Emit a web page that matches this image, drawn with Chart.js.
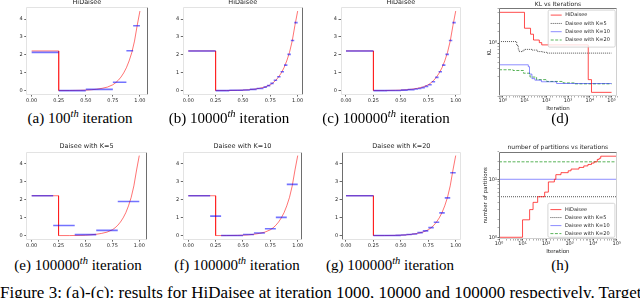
<!DOCTYPE html>
<html>
<head>
<meta charset="utf-8">
<script src="https://cdn.jsdelivr.net/npm/chart.js@4.4.1/dist/chart.umd.min.js"></script>
<style>
  html, body { margin:0; padding:0; background:#fff; }
  body { position:relative; width:640px; height:298px; overflow:hidden; }
  canvas { position:absolute; }
  .cap { position:absolute; width:240px; text-align:center; white-space:nowrap;
         font-family:'Liberation Serif','DejaVu Serif',serif; font-size:15px; line-height:16px; color:#000; }
  .cap sup { font-size:10.5px; line-height:0; font-style:italic; vertical-align:6px; }
  #figcap { position:absolute; left:0; top:284px; white-space:nowrap;
            font-family:'Liberation Serif','DejaVu Serif',serif; font-size:17px; line-height:18px; color:#000; }
</style>
</head>
<body>
<canvas id="pa"></canvas><canvas id="pb"></canvas><canvas id="pc"></canvas><canvas id="pd"></canvas>
<canvas id="pe"></canvas><canvas id="pf"></canvas><canvas id="pg"></canvas><canvas id="ph"></canvas>

<div class="cap" style="left:-40px;top:110px">(a) 100<sup>th</sup> iteration</div>
<div class="cap" style="left:109px;top:110px">(b) 10000<sup>th</sup> iteration</div>
<div class="cap" style="left:266px;top:110px">(c) 100000<sup>th</sup> iteration</div>
<div class="cap" style="left:440px;top:110px">(d)</div>
<div class="cap" style="left:-42px;top:257px">(e) 100000<sup>th</sup> iteration</div>
<div class="cap" style="left:117px;top:257px">(f) 100000<sup>th</sup> iteration</div>
<div class="cap" style="left:270px;top:257px">(g) 100000<sup>th</sup> iteration</div>
<div class="cap" style="left:440px;top:257px">(h)</div>
<div id="figcap">Figure 3: (a)-(c): results for HiDaisee at iteration 1000, 10000 and 100000 respectively. Target</div>

<script>
// ---------------- data ----------------
const unitTicks = [0, 0.25, 0.5, 0.75, 1];
const unitTickLabels = ['0.00', '0.25', '0.50', '0.75', '1.00'];
const densityTicks = [0, 1, 2, 3, 4];
const densityTickLabels = ['0', '1', '2', '3', '4'];
const logTickExps = [0, 1, 2, 3, 4, 5];
const logTickLabels = ['10\u2070', '10\u00B9', '10\u00B2', '10\u00B3', '10\u2074', '10\u2075'];

// target density (red)
const targetX = [0, 0.25, 0.25, 0.35, 0.45, 0.5, 0.55, 0.6, 0.65, 0.7, 0.75, 0.775, 0.8, 0.825, 0.85, 0.875, 0.9, 0.925, 0.95, 0.975, 1.0];
const targetY = [2.22, 2.22, 0.01, 0.01, 0.02, 0.03, 0.05, 0.08, 0.13, 0.2, 0.33, 0.44, 0.58, 0.76, 0.99, 1.28, 1.66, 2.13, 2.77, 3.65, 4.45];

// HiDaisee estimates (blue), partition edges + values
const edgesA = [0, 0.25, 0.5, 0.75, 0.875, 0.9375, 1];
const valsA  = [2.14, 0.0, 0.07, 0.47, 2.23, 3.63];

const edgesB = [0, 0.25, 0.375, 0.5, 0.5625, 0.625, 0.6875, 0.71875, 0.75, 0.78125, 0.8125, 0.84375, 0.875, 0.90625, 0.9375, 0.96875, 1];
const valsB  = [2.22, 0.0, 0.02, 0.04, 0.07, 0.12, 0.2, 0.28, 0.41, 0.58, 0.78, 1.06, 1.43, 2.03, 2.8, 3.8];

const edgesC = [0, 0.25, 0.375, 0.5, 0.5625, 0.625, 0.65625, 0.6875, 0.71875, 0.75, 0.78125, 0.8125, 0.84375, 0.875, 0.90625, 0.9375, 0.96875, 1];
const valsC  = [2.22, 0.0, 0.01, 0.03, 0.06, 0.09, 0.12, 0.17, 0.24, 0.33, 0.5, 0.74, 1.06, 1.43, 2.03, 2.8, 3.8];

// Daisee estimates with fixed K
const edgesE = [0, 0.2, 0.4, 0.6, 0.8, 1];
const valsE  = [2.22, 0.57, 0.06, 0.3, 1.9];

const edgesF = [0, 0.1, 0.2, 0.3, 0.4, 0.5, 0.6, 0.7, 0.8, 0.9, 1];
const valsF  = [2.22, 2.22, 1.09, 0.01, 0.01, 0.07, 0.15, 0.39, 1.02, 2.85];

const edgesG = [0, 0.05, 0.1, 0.15, 0.2, 0.25, 0.3, 0.35, 0.4, 0.45, 0.5, 0.55, 0.6, 0.65, 0.7, 0.75, 0.8, 0.85, 0.9, 0.95, 1];
const valsG  = [2.22, 2.22, 2.22, 2.22, 2.22, 0.01, 0.01, 0.01, 0.01, 0.02, 0.04, 0.07, 0.1, 0.17, 0.27, 0.45, 0.75, 1.27, 2.1, 3.5];

// (d) KL vs iterations
const seriesNames = ['HiDaisee', 'Daisee with K=5', 'Daisee with K=10', 'Daisee with K=20'];
const klHiIter  = [0.68, 10, 19, 26, 48, 62, 8500, 12000, 100000];
const klHi      = [3.03, 1.71, 1.38, 1.12, 1.02, 0.94, 0.27, 0.171, 0.171];
const klK5Iter  = [0.68, 4.4, 5.2, 5.8, 8.5, 10.5, 22, 40, 70, 105, 100000];
const klK5      = [1.06, 0.92, 0.78, 0.74, 0.78, 0.80, 0.78, 0.74, 0.72, 0.70, 0.70];
const klK10Iter = [0.68, 15, 17, 22, 30, 60, 300, 100000];
const klK10     = [0.46, 0.43, 0.33, 0.28, 0.265, 0.25, 0.235, 0.235];
const klK20Iter = [0.68, 3, 9, 18, 36, 105, 600, 2000, 100000];
const klK20     = [0.385, 0.375, 0.34, 0.296, 0.27, 0.253, 0.24, 0.232, 0.232];

// (h) number of partitions vs iterations
const partHiIter = [1, 10, 20, 28, 44, 87, 125, 225, 260, 430, 870, 1150, 2500, 4000, 6000, 8500, 11000, 15000, 18000, 21000, 100000];
const partHi     = [1, 2, 3, 4, 5, 6, 9, 10, 12, 13, 14, 15, 16, 17, 18, 19, 20, 22, 23, 25, 25];
const partKIter  = [1, 100000];
const partK5     = [5, 5];
const partK10    = [10, 10];
const partK20    = [20, 20];

// ---------------- helpers ----------------
const TXT = '#262626';
Chart.defaults.font.family = 'DejaVu Sans';

function segPoints(edges, vals) {
  const pts = [];
  vals.forEach((v, i) => {
    pts.push({x: edges[i], y: v}, {x: edges[i + 1], y: v}, {x: edges[i + 1], y: null});
  });
  return pts;
}
function curvePoints(xs, ys) { return xs.map((x, i) => ({x: x, y: ys[i]})); }

function mount(id, plot, m) {
  const L = Math.floor(plot.l - m.l), T = Math.floor(plot.t - m.t);
  const R = Math.ceil(plot.r + m.r), B = Math.ceil(plot.b + m.b);
  const cv = document.getElementById(id);
  cv.width = R - L; cv.height = B - T;
  cv.style.left = L + 'px'; cv.style.top = T + 'px';
  cv.style.width = (R - L) + 'px'; cv.style.height = (B - T) + 'px';
  return {ml: plot.l - L, mt: plot.t - T, mr: R - plot.r, mb: B - plot.b};
}

const framePlugin = {
  id: 'frame',
  afterDatasetsDraw(chart, args, o) {
    if (!o) return;
    const a = chart.chartArea, ctx = chart.ctx;
    const l = Math.round(a.left) + 0.5, r = Math.round(a.right) - 0.5;
    const t = Math.round(a.top) + 0.5, b = Math.round(a.bottom) - 0.5;
    const sides = [
      [l, t, l, b, o.darkLeft], [r, t, r, b, o.darkRight],
      [l, t, r, t, o.darkTop], [l, b, r, b, o.darkBottom]
    ];
    ctx.save();
    ctx.lineWidth = 1;
    sides.forEach(s => {
      ctx.strokeStyle = s[4] ? o.darkColor : o.color;
      ctx.beginPath(); ctx.moveTo(s[0], s[1]); ctx.lineTo(s[2], s[3]); ctx.stroke();
    });
    ctx.restore();
  }
};

const boxLegend = {
  id: 'boxLegend',
  afterDraw(chart, args, o) {
    if (!o || !o.show) return;
    const a = chart.chartArea, ctx = chart.ctx;
    const x = a.right - o.inset - o.w;
    const y = o.atBottom ? a.bottom - o.inset - o.h : a.top + o.inset;
    ctx.save();
    ctx.beginPath();
    if (ctx.roundRect) ctx.roundRect(x, y, o.w, o.h, 1.5); else ctx.rect(x, y, o.w, o.h);
    ctx.fillStyle = 'rgba(255,255,255,0.8)'; ctx.fill();
    ctx.strokeStyle = '#cccccc'; ctx.lineWidth = 0.8; ctx.stroke();
    ctx.font = o.fontSize + 'px "DejaVu Sans"';
    ctx.textBaseline = 'middle'; ctx.textAlign = 'left';
    chart.data.datasets.forEach((ds, i) => {
      const ry = y + o.first + i * o.rowH;
      ctx.save();
      ctx.strokeStyle = ds.borderColor; ctx.lineWidth = ds.borderWidth;
      ctx.setLineDash(ds.borderDash || []);
      ctx.beginPath(); ctx.moveTo(x + 2.5, ry); ctx.lineTo(x + 13.5, ry); ctx.stroke();
      ctx.restore();
      ctx.fillStyle = TXT;
      ctx.fillText(ds.label, x + 17, ry);
    });
    ctx.restore();
  }
};

function densityChart(p) {
  const mm = mount(p.id, p.plot, p.m);
  return new Chart(document.getElementById(p.id), {
    type: 'line',
    data: {
      datasets: [
        { label: 'estimate', data: segPoints(p.edges, p.vals), borderColor: 'rgba(0,0,255,0.55)',
          borderWidth: 1.6, pointRadius: 0, spanGaps: false, tension: 0, borderCapStyle: 'butt' },
        { label: 'target', data: curvePoints(targetX, targetY), borderColor: 'rgba(255,0,0,0.55)',
          borderWidth: 1, pointRadius: 0, tension: 0 }
      ]
    },
    options: {
      responsive: false, animation: false, devicePixelRatio: 1,
      layout: { padding: { left: 0, top: 0, right: mm.mr, bottom: 0 } },
      plugins: {
        legend: { display: false }, tooltip: { enabled: false },
        title: { display: true, text: p.title, fullSize: false, color: TXT,
                 font: { family: 'DejaVu Sans', size: 6.5, weight: 'normal', lineHeight: 1 },
                 padding: { top: 0, bottom: mm.mt - 6.5 } },
        frame: { color: '#e3e3e3', darkColor: '#6e6e6e', darkLeft: !!p.darkLeft, darkRight: !!p.darkRight,
                 darkTop: false, darkBottom: false },
        boxLegend: { show: false }
      },
      scales: {
        x: {
          type: 'linear', min: p.xMin, max: p.xMax,
          afterBuildTicks: s => { s.ticks = unitTicks.map(v => ({ value: v })); },
          afterFit: s => { s.height = mm.mb; },
          ticks: { callback: v => { const i = unitTicks.indexOf(v); return i < 0 ? '' : unitTickLabels[i]; },
                   font: { family: 'DejaVu Sans', size: 5 }, color: TXT, padding: 1, maxRotation: 0, autoSkip: false },
          grid: { display: true, drawOnChartArea: false, drawTicks: true, tickLength: 2, color: '#444', lineWidth: 0.8 },
          border: { display: false }
        },
        y: {
          type: 'linear', min: -0.22, max: 4.67,
          afterBuildTicks: s => { s.ticks = densityTicks.map(v => ({ value: v })); },
          afterFit: s => { s.width = mm.ml; },
          ticks: { callback: v => { const i = densityTicks.indexOf(v); return i < 0 ? '' : densityTickLabels[i]; },
                   font: { family: 'DejaVu Sans', size: 5 }, color: TXT, padding: 1.5, autoSkip: false },
          grid: { display: true, drawOnChartArea: false, drawTicks: true, tickLength: 2, color: '#444', lineWidth: 0.8 },
          border: { display: false }
        }
      }
    },
    plugins: [framePlugin, boxLegend]
  });
}

function isDec(v) { const e = Math.log10(v); return Math.abs(e - Math.round(e)) < 1e-6; }
function decLabel(v) {
  if (!isDec(v)) return '';
  const i = logTickExps.indexOf(Math.round(Math.log10(v)));
  return i < 0 ? '' : logTickLabels[i];
}

function logChart(p) {
  const mm = mount(p.id, p.plot, p.m);
  const tickColor = c => (c.tick && isDec(c.tick.value)) ? '#333' : '#999';
  return new Chart(document.getElementById(p.id), {
    type: 'line',
    data: {
      datasets: p.series.map((s, i) => ({
        label: seriesNames[i], data: curvePoints(s.x, s.y), borderColor: s.color,
        borderWidth: s.width, borderDash: s.dash, pointRadius: 0, stepped: 'before'
      }))
    },
    options: {
      responsive: false, animation: false, devicePixelRatio: 1,
      layout: { padding: { left: 0, top: 0, right: mm.mr, bottom: 0 } },
      plugins: {
        legend: { display: false }, tooltip: { enabled: false },
        title: { display: true, text: p.title, fullSize: false, color: TXT,
                 font: { family: 'DejaVu Sans', size: 6, weight: 'normal', lineHeight: 1 },
                 padding: { top: 0, bottom: mm.mt - 6 } },
        frame: { color: '#d0d0d0', darkColor: '#777', darkLeft: true, darkRight: false, darkTop: true, darkBottom: false },
        boxLegend: Object.assign({ show: true, fontSize: 5 }, p.legend)
      },
      scales: {
        x: {
          type: 'logarithmic', min: p.xMin, max: p.xMax,
          afterFit: s => { s.height = mm.mb; },
          ticks: { callback: v => decLabel(v), font: { family: 'DejaVu Sans', size: 5 }, color: TXT,
                   padding: 0.5, maxRotation: 0, autoSkip: false },
          grid: { display: true, drawOnChartArea: false, drawTicks: true, tickLength: 1.5, tickColor: tickColor, lineWidth: 0.8 },
          border: { display: false },
          title: { display: true, text: p.xTitle, color: TXT, font: { family: 'DejaVu Sans', size: 5.5, lineHeight: 1.2 },
                   padding: { top: 0, bottom: 0 } }
        },
        y: {
          type: 'logarithmic', min: p.yMin, max: p.yMax,
          afterFit: s => { s.width = mm.ml; },
          ticks: { callback: v => decLabel(v), font: { family: 'DejaVu Sans', size: 5 }, color: TXT,
                   padding: 0.5, autoSkip: false },
          grid: { display: true, drawOnChartArea: false, drawTicks: true, tickLength: 1.5, tickColor: tickColor, lineWidth: 0.8 },
          border: { display: false },
          title: { display: true, text: p.yTitle, color: TXT, font: { family: 'DejaVu Sans', size: 5.5, lineHeight: 1.2 },
                   padding: { top: p.yTitlePad, bottom: 0 } }
        }
      }
    },
    plugins: [framePlugin, boxLegend]
  });
}

// ---------------- panels ----------------
const topM = { l: 14, t: 7.5, r: 6, b: 12 };
const botM = { l: 14, t: 7.85, r: 6, b: 12 };

densityChart({ id: 'pa', title: 'HiDaisee', edges: edgesA, vals: valsA, xMin: -0.05, xMax: 1.07,
  plot: { l: 26.25, t: 7.1, r: 147.5, b: 94.6 }, m: topM, darkRight: true });
densityChart({ id: 'pb', title: 'HiDaisee', edges: edgesB, vals: valsB, xMin: -0.05, xMax: 1.046,
  plot: { l: 182.8, t: 7.1, r: 302.7, b: 94.6 }, m: topM, darkRight: true });
densityChart({ id: 'pc', title: 'HiDaisee', edges: edgesC, vals: valsC, xMin: -0.05, xMax: 1.05,
  plot: { l: 340.5, t: 7.1, r: 461.2, b: 94.6 }, m: topM });
densityChart({ id: 'pe', title: 'Daisee with K=5', edges: edgesE, vals: valsE, xMin: -0.05, xMax: 1.07,
  plot: { l: 26.3, t: 151.6, r: 146.8, b: 239.7 }, m: botM, darkRight: true });
densityChart({ id: 'pf', title: 'Daisee with K=10', edges: edgesF, vals: valsF, xMin: -0.05, xMax: 1.04,
  plot: { l: 182.8, t: 151.6, r: 302.1, b: 239.7 }, m: botM, darkRight: true });
densityChart({ id: 'pg', title: 'Daisee with K=20', edges: edgesG, vals: valsG, xMin: -0.04, xMax: 1.05,
  plot: { l: 341.6, t: 151.6, r: 461.2, b: 239.7 }, m: botM, darkLeft: true });

const colHi = 'rgba(255,0,0,0.7)', colK5 = 'rgba(0,0,0,0.75)', colK10 = 'rgba(0,0,255,0.45)', colK20 = 'rgba(0,140,0,0.65)';

logChart({ id: 'pd', title: 'KL vs Iterations', xTitle: 'Iteration', yTitle: 'KL', yTitlePad: 3.7,
  xMin: 0.676, xMax: 177828, yMin: 0.15, yMax: 3.5,
  plot: { l: 499, t: 8.3, r: 617, b: 96 }, m: { l: 16, t: 7.3, r: 8, b: 15.6 },
  legend: { inset: 1.8, w: 67, h: 37, first: 5, rowH: 8.3, atBottom: false },
  series: [
    { x: klHiIter, y: klHi, color: colHi, width: 1, dash: [] },
    { x: klK5Iter, y: klK5, color: colK5, width: 0.9, dash: [1, 1] },
    { x: klK10Iter, y: klK10, color: colK10, width: 1, dash: [] },
    { x: klK20Iter, y: klK20, color: colK20, width: 1, dash: [3, 1.5] }
  ] });

logChart({ id: 'ph', title: 'number of partitions vs iterations', xTitle: 'Iteration', yTitle: 'number of partitions', yTitlePad: 2.7,
  xMin: 1, xMax: 100000, yMin: 0.93, yMax: 30,
  plot: { l: 499, t: 151.6, r: 616.7, b: 239.1 }, m: { l: 19, t: 7.6, r: 8, b: 15.9 },
  legend: { inset: 1.8, w: 67, h: 34, first: 6.3, rowH: 8, atBottom: true },
  series: [
    { x: partHiIter, y: partHi, color: colHi, width: 1, dash: [] },
    { x: partKIter, y: partK5, color: colK5, width: 0.9, dash: [1, 1] },
    { x: partKIter, y: partK10, color: colK10, width: 1, dash: [] },
    { x: partKIter, y: partK20, color: colK20, width: 1, dash: [3, 1.5] }
  ] });
</script>
</body>
</html>
